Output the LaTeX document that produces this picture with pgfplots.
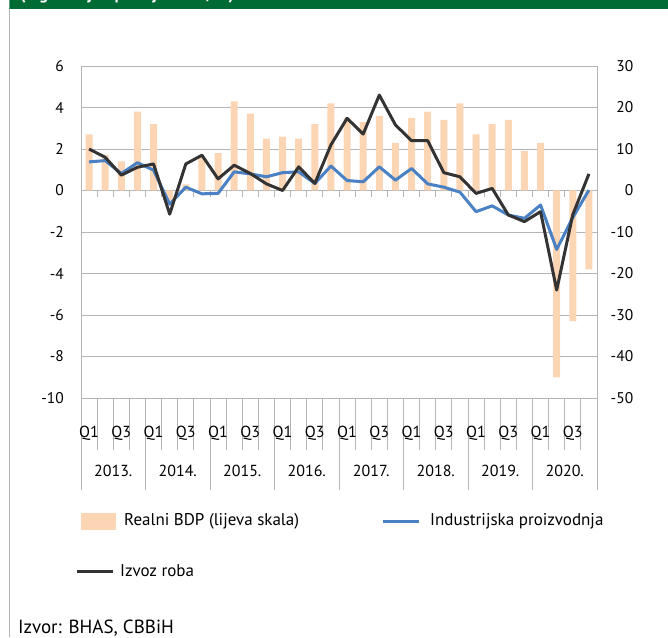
\documentclass[border=0pt]{standalone}
\usepackage{fontspec}
\setmainfont{PT Sans}
\usepackage{pgfplots}
\pgfplotsset{compat=1.18}

\definecolor{barpeach}{HTML}{FCD5B4}
\definecolor{indblue}{HTML}{4A80C4}
\definecolor{expdark}{HTML}{333333}
\definecolor{gridgray}{HTML}{B5B5B5}
\definecolor{hdrgreen}{HTML}{006B35}
\newcommand\lbl{\fontsize{15.5}{18}\selectfont}
\newcommand\cat{\fontsize{16}{19}\selectfont}
\newcommand\leg{\fontsize{17}{20}\selectfont}

\begin{document}
\begin{tikzpicture}[x=1pt,y=1pt]

% header strip and frame
\begin{scope}
  \clip (9.4,628) rectangle (668,637);
  \fill[hdrgreen] (9.4,628) rectangle (668,637);
  \node[white, anchor=base west, inner sep=0pt, font=\leg\bfseries] at (20,637.5) {(u godišnjim promjenama, \%)};
\end{scope}
\draw[gridgray, line width=0.8pt] (9.4,0) -- (9.4,628);

% left axis: real GDP bars
\begin{axis}[
  at={(81pt,239pt)}, anchor=south west,
  scale only axis, width=516pt, height=332pt,
  xmin=-0.5, xmax=31.5, ymin=-10, ymax=6,
  xtick=\empty, ytick={-10,-8,...,6},
  ymajorgrids, grid style={gridgray, line width=0.8pt},
  axis line style={gridgray, line width=0.8pt},
  major tick length=0pt,
  yticklabel style={anchor=east, inner sep=0pt, xshift=-17pt, font=\lbl},
  /pgf/number format/assume math mode=true,
  clip=false,
]
\addplot[ybar, bar width=7pt, bar shift=0pt, fill=barpeach, draw=none] coordinates {
  (0,2.7) (1,1.7) (2,1.4) (3,3.8) (4,3.2) (5,-0.5) (6,0.3) (7,1.6)
  (8,1.8) (9,4.3) (10,3.7) (11,2.5) (12,2.6) (13,2.5) (14,3.2) (15,4.2)
  (16,3.5) (17,3.3) (18,3.6) (19,2.3) (20,3.5) (21,3.8) (22,3.4) (23,4.2)
  (24,2.7) (25,3.2) (26,3.4) (27,1.9) (28,2.3) (29,-9.0) (30,-6.3) (31,-3.8)
};
% category ticks on the zero line and category separators below the plot
\pgfplotsinvokeforeach{-0.5,0.5,...,31.5}{
  \draw[gridgray, line width=0.8pt] (axis cs:#1,0) -- ([yshift=-7pt]axis cs:#1,0);
  \draw[gridgray, line width=0.8pt] (axis cs:#1,-10) -- ([yshift=-52pt]axis cs:#1,-10);
}
\pgfplotsinvokeforeach{-0.5,3.5,...,31.5}{
  \draw[gridgray, line width=0.8pt] (axis cs:#1,-10) -- ([yshift=-92pt]axis cs:#1,-10);
}
\pgfplotsinvokeforeach{0,4,...,28}{
  \node[font=\cat, yshift=-35pt] at (axis cs:#1,-10) {Q1};
}
\pgfplotsinvokeforeach{2,6,...,30}{
  \node[font=\cat, yshift=-35pt] at (axis cs:#1,-10) {Q3};
}
\node[font=\cat, yshift=-73pt] at (axis cs:1.5,-10) {2013.};
\node[font=\cat, yshift=-73pt] at (axis cs:5.5,-10) {2014.};
\node[font=\cat, yshift=-73pt] at (axis cs:9.5,-10) {2015.};
\node[font=\cat, yshift=-73pt] at (axis cs:13.5,-10) {2016.};
\node[font=\cat, yshift=-73pt] at (axis cs:17.5,-10) {2017.};
\node[font=\cat, yshift=-73pt] at (axis cs:21.5,-10) {2018.};
\node[font=\cat, yshift=-73pt] at (axis cs:25.5,-10) {2019.};
\node[font=\cat, yshift=-73pt] at (axis cs:29.5,-10) {2020.};
\end{axis}

% right axis: industrial production and goods exports
\begin{axis}[
  at={(81pt,239pt)}, anchor=south west,
  scale only axis, width=516pt, height=332pt,
  xmin=-0.5, xmax=31.5, ymin=-50, ymax=30,
  axis x line=none, axis y line*=right,
  ytick={-50,-40,...,30},
  axis line style={gridgray, line width=0.8pt},
  major tick length=0pt,
  yticklabel style={anchor=west, inner sep=0pt, text width=26pt, align=right, xshift=10pt, font=\lbl},
  /pgf/number format/assume math mode=true,
]
\addplot[indblue, line width=3pt, line join=round] coordinates {
  (0,6.9) (1,7.2) (2,4.1) (3,6.7) (4,4.9) (5,-3.3) (6,0.8) (7,-0.8)
  (8,-0.7) (9,4.5) (10,4.0) (11,3.3) (12,4.3) (13,4.5) (14,1.7) (15,5.9)
  (16,2.4) (17,2.1) (18,5.7) (19,2.5) (20,5.3) (21,1.6) (22,0.8) (23,-0.4)
  (24,-5.1) (25,-3.7) (26,-5.9) (27,-6.7) (28,-3.5) (29,-14.2) (30,-6.5) (31,0.1)
};
\addplot[expdark, line width=3pt, line join=round] coordinates {
  (0,10.0) (1,8.0) (2,3.7) (3,5.6) (4,6.4) (5,-5.7) (6,6.4) (7,8.5)
  (8,2.8) (9,6.1) (10,4.1) (11,1.6) (12,0.0) (13,5.7) (14,1.7) (15,11.0)
  (16,17.4) (17,13.6) (18,23.0) (19,15.8) (20,12.0) (21,12.0) (22,4.3) (23,3.3)
  (24,-0.7) (25,0.5) (26,-5.9) (27,-7.5) (28,-5.1) (29,-24.0) (30,-5.8) (31,4.0)
};
\end{axis}

% legend
\fill[barpeach] (81,107) rectangle (116,124);
\node[font=\leg, anchor=west, inner sep=0pt] at (124,116) {Realni BDP (lijeva skala)};
\draw[indblue, line width=3pt] (383,116) -- (419,116);
\node[font=\leg, anchor=west, inner sep=0pt] at (430,116) {Industrijska proizvodnja};
\draw[expdark, line width=3pt] (77,66) -- (113,66);
\node[font=\leg, anchor=west, inner sep=0pt] at (120,66) {Izvoz roba};

% source
\node[font=\fontsize{19}{22}\selectfont, anchor=base west, inner sep=0pt] at (18,4) {Izvor: BHAS, CBBiH};

\pgfresetboundingbox
\useasboundingbox (0,0) rectangle (668,637);
\end{tikzpicture}
\end{document}
